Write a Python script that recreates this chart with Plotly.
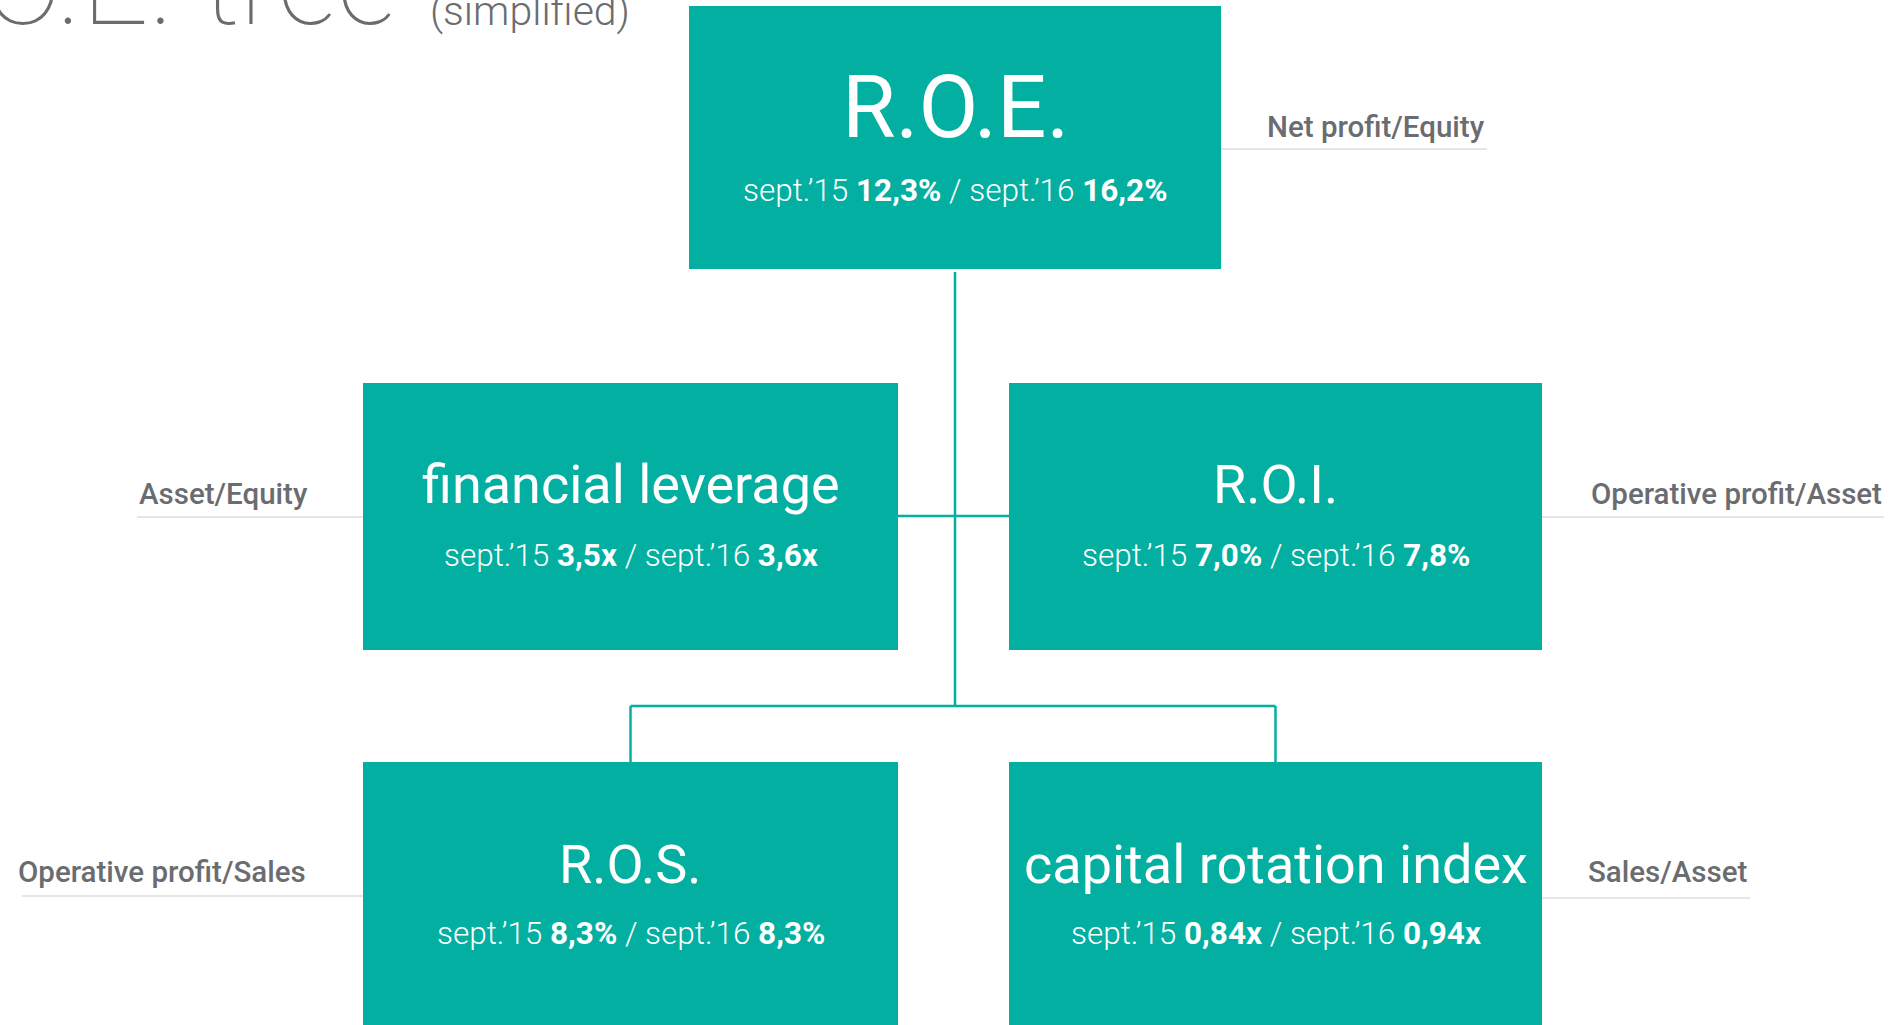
import plotly.graph_objects as go

# ---- data ----
nodes = ["R.O.E.", "financial leverage", "R.O.I.", "R.O.S.", "capital rotation index"]
period_a = "sept.’15"
period_b = "sept.’16"
values_a = ["12,3%", "3,5x", "7,0%", "8,3%", "0,84x"]
values_b = ["16,2%", "3,6x", "7,8%", "8,3%", "0,94x"]
formulas = ["Net profit/Equity", "Asset/Equity", "Operative profit/Asset",
            "Operative profit/Sales", "Sales/Asset"]
title_main = "R.O.E. tree"
title_sub = "(simplified)"

# ---- layout (pixel space) ----
W, H = 1896, 1025
TEAL = "#02AFA1"
GRAY = "#6b6c70"
LINEGRAY = "#dcdcdc"
FONT = "Roboto"

# box rectangles: x0, x1, y0, y1
boxes = [
    (689, 1221, 6, 269),
    (363, 898, 383, 650),
    (1009, 1542, 383, 650),
    (363, 898, 762, 1040),
    (1009, 1542, 762, 1040),
]
title_size = [87, 54, 54, 54, 54]
title_base = [137, 503, 503, 883, 883]
sub_base = [201.5, 566.5, 566.5, 944.5, 944.5]
SUB_SIZE = 31.5
LABEL_SIZE = 29.5

# formula labels: (text anchor x, anchor side, baseline, underline y, line x0, line x1)
labels = [
    (1487, "right", 137.5, 149, 1221, 1487),
    (137, "left", 504, 517, 137, 363),
    (1884, "right", 504, 517, 1542, 1884),
    (16, "left", 882, 896, 22, 363),
    (1750, "right", 882, 898, 1542, 1750),
]

fig = go.Figure()
shapes = []
annotations = []

# connectors
cx = (boxes[0][0] + boxes[0][1]) / 2
lx = (boxes[1][0] + boxes[1][1]) / 2
rx = (boxes[2][0] + boxes[2][1]) / 2
conn = [
    (cx, 272, cx, 706),
    (boxes[1][1], 516, boxes[2][0], 516),
    (lx, 706, rx, 706),
    (lx, 706, lx, 762),
    (rx, 706, rx, 762),
]
for x0, y0, x1, y1 in conn:
    shapes.append(dict(type="line", xref="x", yref="y", x0=x0, y0=y0, x1=x1, y1=y1,
                       line=dict(color=TEAL, width=2.5), layer="below"))

for i, (x0, x1, y0, y1) in enumerate(boxes):
    shapes.append(dict(type="rect", xref="x", yref="y", x0=x0, x1=x1, y0=y0, y1=y1,
                       fillcolor=TEAL, line=dict(width=0), layer="above"))
    mx = (x0 + x1) / 2
    s = title_size[i]
    annotations.append(dict(x=mx, y=title_base[i] - 0.34 * s, xref="x", yref="y",
                            text=nodes[i], showarrow=False, xanchor="center", yanchor="middle",
                            font=dict(family=FONT, size=s, color="white", weight=400)))
    annotations.append(dict(x=mx, y=sub_base[i] - 0.34 * SUB_SIZE, xref="x", yref="y",
                            text=f"{period_a} <b>{values_a[i]}</b> / {period_b} <b>{values_b[i]}</b>",
                            showarrow=False, xanchor="center", yanchor="middle",
                            font=dict(family=FONT, size=SUB_SIZE, color="white", weight=300)))

for i, (tx, side, base, ly, lx0, lx1) in enumerate(labels):
    shapes.append(dict(type="line", xref="x", yref="y", x0=lx0, x1=lx1, y0=ly, y1=ly,
                       line=dict(color=LINEGRAY, width=1.5), layer="below"))
    annotations.append(dict(x=tx, y=base - 0.34 * LABEL_SIZE, xref="x", yref="y", text=formulas[i],
                            showarrow=False, xanchor=side, yanchor="middle",
                            font=dict(family=FONT, size=LABEL_SIZE, color=GRAY, weight=500)))

# title (partly off-page at top-left, as in the original slide)
tsize = 118
annotations.append(dict(x=399 / W, y=1 - (24 - 0.34 * tsize) / H, xref="paper", yref="paper",
                        text=title_main, showarrow=False, xanchor="right", yanchor="middle",
                        font=dict(family=FONT, size=tsize, color=GRAY, weight=100)))
annotations.append(dict(x=428 / W, y=1 - (25 - 0.34 * 41) / H, xref="paper", yref="paper",
                        text=title_sub, showarrow=False, xanchor="left", yanchor="middle",
                        font=dict(family=FONT, size=41, color=GRAY, weight=300)))

fig.update_layout(
    width=W, height=H, autosize=False,
    margin=dict(l=0, r=0, t=0, b=0, pad=0),
    paper_bgcolor="white", plot_bgcolor="white",
    xaxis=dict(range=[0, W], visible=False, fixedrange=True),
    yaxis=dict(range=[H, 0], visible=False, fixedrange=True),
    shapes=shapes, annotations=annotations, showlegend=False,
)
fig.write_html("out.html", config={"displayModeBar": False},
               post_script="document.body.style.margin='0';document.body.style.overflow='hidden';")
